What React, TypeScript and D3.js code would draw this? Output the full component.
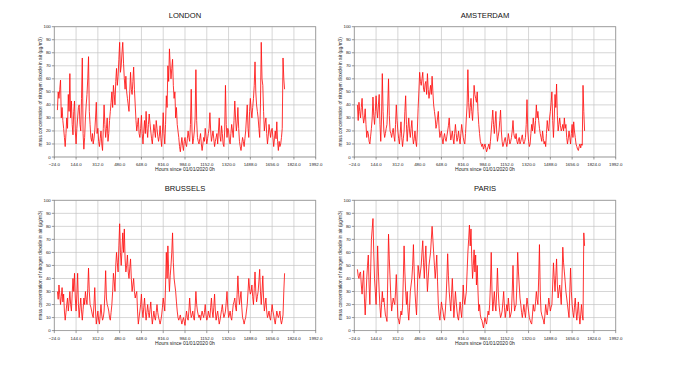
import React from "react";
import * as d3 from "d3";

// NO2 readings sampled every 6 h from 01/01/2020 0h (one row = 144 h)
const sampleStep = 6;

const cities = ["LONDON", "AMSTERDAM", "BRUSSELS", "PARIS"];

const london = [
  36, 50, 45, 52, 59, 30, 38, 28, 22, 15, 8, 18, 30, 22, 48, 35, 64, 30, 43, 25, 17, 35, 43, 20,
  10, 22, 30, 38, 40, 25, 20, 45, 76, 18, 6, 15, 30, 40, 48, 60, 77, 35, 25, 15, 12, 18, 10, 14,
  20, 30, 42, 18, 22, 12, 8, 14, 20, 10, 5, 22, 40, 25, 15, 22, 30, 12, 18, 28, 35, 42, 50, 38,
  55, 48, 40, 58, 68, 55, 62, 75, 88, 65, 70, 80, 88, 72, 60, 52, 62, 50, 45, 40, 35, 50, 65, 52,
  48, 58, 69, 52, 40, 28, 20, 25, 30, 18, 15, 22, 32, 18, 10, 20, 28, 18, 35, 22, 15, 25, 33, 26,
  20, 14, 10, 18, 25, 20, 15, 28, 22, 16, 12, 16, 24, 14, 8, 20, 34, 18, 10, 25, 47, 38, 70, 58,
  83, 70, 60, 68, 75, 55, 45, 50, 30, 38, 25, 20, 15, 8, 4, 10, 15, 9, 5, 12, 15, 10, 8, 14,
  20, 15, 12, 25, 52, 20, 10, 14, 20, 30, 67, 28, 15, 12, 10, 14, 18, 10, 5, 10, 15, 12, 22, 16,
  10, 14, 18, 22, 34, 20, 12, 16, 20, 14, 8, 12, 15, 18, 10, 20, 30, 16, 12, 24, 18, 10, 8, 20,
  55, 25, 15, 22, 20, 13, 10, 18, 25, 20, 15, 28, 43, 30, 20, 26, 38, 22, 12, 8, 5, 10, 15, 12,
  8, 14, 20, 30, 40, 22, 15, 35, 45, 36, 30, 38, 45, 55, 73, 50, 40, 35, 30, 22, 15, 40, 88, 60,
  55, 35, 20, 26, 30, 18, 10, 16, 25, 20, 15, 20, 22, 15, 8, 14, 20, 14, 27, 12, 5, 12, 8, 10,
  15, 22, 76, 60, 52,
];

const amsterdam = [
  40, 28, 42, 35, 30, 38, 45, 32, 26, 30, 37, 25, 15, 20, 18, 12, 10, 16, 22, 30, 46, 32, 25, 35,
  47, 36, 30, 40, 48, 25, 12, 30, 64, 35, 20, 15, 18, 22, 25, 40, 60, 32, 20, 18, 15, 19, 22, 16,
  12, 25, 40, 28, 20, 14, 10, 18, 27, 15, 8, 14, 20, 35, 47, 25, 12, 22, 30, 20, 15, 22, 28, 16,
  10, 14, 20, 12, 8, 20, 37, 50, 65, 58, 55, 60, 65, 52, 50, 56, 58, 48, 64, 52, 45, 50, 55, 48,
  62, 50, 40, 35, 30, 22, 25, 30, 35, 22, 15, 18, 20, 14, 10, 15, 18, 14, 12, 16, 20, 24, 30, 20,
  13, 16, 20, 14, 10, 18, 25, 18, 12, 15, 20, 14, 10, 18, 25, 20, 15, 12, 10, 18, 30, 40, 67, 42,
  30, 38, 45, 35, 28, 40, 55, 48, 45, 42, 50, 35, 25, 18, 12, 10, 8, 10, 6, 8, 10, 7, 4, 6,
  8, 10, 6, 12, 20, 28, 36, 25, 18, 26, 35, 20, 12, 16, 20, 28, 36, 20, 12, 8, 10, 13, 15, 11,
  8, 12, 18, 14, 10, 12, 15, 20, 28, 18, 15, 14, 18, 12, 10, 13, 15, 10, 12, 15, 17, 12, 10, 12,
  15, 25, 44, 20, 12, 8, 10, 18, 25, 20, 30, 24, 18, 28, 40, 30, 35, 28, 22, 18, 15, 12, 20, 14,
  10, 12, 8, 18, 28, 22, 20, 30, 35, 42, 50, 28, 15, 30, 48, 38, 56, 32, 20, 25, 30, 24, 20, 22,
  25, 20, 30, 22, 25, 15, 10, 14, 20, 15, 10, 18, 25, 15, 27, 20, 15, 10, 8, 6, 5, 8, 10, 7,
  10, 9, 55, 35, 20,
];

const brussels = [
  30, 24, 35, 28, 20, 26, 33, 22, 28, 15, 8, 14, 20, 25, 15, 22, 30, 20, 15, 28, 40, 30, 44, 25,
  15, 28, 44, 20, 10, 18, 25, 15, 8, 16, 25, 20, 30, 24, 20, 32, 48, 30, 20, 18, 15, 12, 10, 20,
  33, 15, 5, 10, 15, 8, 5, 12, 20, 12, 8, 10, 15, 28, 46, 25, 20, 18, 15, 10, 8, 14, 20, 30,
  44, 38, 30, 50, 60, 52, 45, 65, 82, 60, 50, 62, 75, 60, 78, 55, 45, 50, 58, 45, 40, 48, 55, 40,
  30, 35, 40, 30, 25, 28, 30, 15, 5, 10, 15, 20, 28, 16, 10, 18, 25, 15, 8, 14, 20, 14, 10, 16,
  22, 12, 5, 10, 15, 10, 8, 14, 20, 14, 10, 8, 5, 8, 12, 18, 25, 20, 15, 35, 60, 40, 65, 45,
  30, 42, 50, 60, 75, 52, 40, 35, 30, 22, 15, 10, 8, 10, 12, 8, 5, 8, 10, 7, 4, 10, 15, 10,
  8, 15, 25, 15, 10, 12, 15, 10, 8, 18, 30, 20, 15, 12, 10, 12, 8, 12, 15, 12, 10, 14, 20, 12,
  8, 10, 15, 12, 10, 18, 25, 15, 10, 18, 28, 15, 8, 12, 15, 10, 5, 8, 12, 16, 20, 14, 10, 12,
  15, 22, 30, 18, 10, 12, 15, 10, 8, 14, 20, 22, 25, 18, 15, 28, 42, 28, 20, 25, 30, 18, 10, 8,
  5, 8, 10, 15, 20, 30, 40, 32, 28, 30, 35, 26, 20, 32, 45, 30, 22, 26, 30, 38, 47, 30, 20, 30,
  42, 25, 15, 20, 25, 15, 10, 12, 15, 10, 8, 14, 20, 15, 12, 8, 5, 10, 15, 12, 10, 12, 15, 8,
  5, 8, 12, 30, 44,
];

const paris = [
  47, 42, 40, 44, 45, 35, 28, 38, 46, 25, 12, 25, 40, 50, 58, 35, 20, 45, 70, 78, 86, 60, 40, 30,
  20, 40, 65, 45, 30, 18, 10, 20, 30, 22, 25, 18, 12, 10, 7, 40, 74, 55, 40, 25, 15, 20, 25, 22,
  20, 30, 43, 25, 10, 8, 5, 10, 15, 12, 18, 40, 65, 45, 30, 20, 30, 15, 8, 18, 30, 35, 40, 50,
  66, 45, 30, 20, 12, 30, 50, 45, 40, 45, 50, 60, 69, 52, 40, 55, 65, 45, 30, 40, 50, 55, 60, 70,
  80, 70, 60, 50, 40, 48, 58, 38, 20, 12, 8, 15, 22, 18, 15, 10, 8, 15, 25, 40, 59, 42, 30, 22,
  15, 28, 40, 25, 10, 20, 30, 22, 15, 10, 8, 15, 22, 15, 10, 20, 35, 25, 20, 25, 30, 45, 60, 70,
  81, 65, 78, 55, 40, 50, 62, 45, 58, 35, 50, 30, 15, 20, 12, 9, 8, 5, 2, 6, 10, 7, 5, 10,
  15, 12, 20, 35, 60, 30, 15, 22, 30, 20, 15, 30, 48, 30, 20, 14, 10, 12, 15, 22, 30, 18, 10, 15,
  20, 15, 25, 18, 10, 12, 15, 30, 50, 25, 15, 18, 20, 35, 60, 45, 35, 25, 20, 14, 10, 15, 20, 14,
  10, 18, 25, 20, 15, 10, 8, 6, 5, 12, 20, 15, 15, 22, 30, 24, 20, 40, 66, 30, 15, 12, 10, 8,
  5, 12, 20, 15, 12, 18, 25, 20, 15, 18, 20, 35, 52, 40, 30, 42, 55, 35, 25, 30, 35, 28, 20, 40,
  64, 52, 45, 38, 30, 25, 20, 15, 10, 30, 48, 30, 20, 14, 10, 18, 25, 15, 8, 15, 22, 12, 5, 12,
  20, 12, 8, 75, 65,
];

const series = [london, amsterdam, brussels, paris];

const xTicks = [-24, 144, 312, 480, 648, 816, 984, 1152, 1320, 1488, 1656, 1824, 1992];
const yTicks = [0, 10, 20, 30, 40, 50, 60, 70, 80, 90, 100];

const xLabel = "Hours since 01/01/2020 0h";
const yLabel = "mass concentration of nitrogen dioxide in air (µg/m3)";

const W = 683;
const H = 370;
const plotW = 261.4;
const plotH = 130.3;
const lefts = [54.3, 354.3];
const tops = [26.7, 200.3];
const font = "'Liberation Sans', Arial, sans-serif";
const fmt = d3.format(".1f");

function Panel(props: { title: string; values: number[]; x0: number; y0: number }) {
  const { title, values, x0, y0 } = props;
  const x = d3.scaleLinear().domain([-24, 1992]).range([0, plotW]);
  const y = d3.scaleLinear().domain([0, 100]).range([plotH, 0]);
  const line = d3
    .line<number>()
    .x((_, i) => x(i * sampleStep))
    .y((d) => y(d));

  return (
    <g transform={`translate(${x0},${y0})`}>
      <text x={plotW / 2} y={-9} textAnchor="middle" fontSize={7.6} fill="#111" fontFamily={font}>
        {title}
      </text>
      <rect width={plotW} height={plotH} fill="#fff" />
      {yTicks.map((t) => (
        <line key={"gy" + t} x1={0} x2={plotW} y1={y(t)} y2={y(t)} stroke="#c4c4c4" strokeWidth={0.7} />
      ))}
      {xTicks.map((t) => (
        <line key={"gx" + t} x1={x(t)} x2={x(t)} y1={0} y2={plotH} stroke="#c4c4c4" strokeWidth={0.7} />
      ))}
      <path d={line(values) || ""} fill="none" stroke="#ff1010" strokeWidth={0.85} strokeLinejoin="round" />
      <rect width={plotW} height={plotH} fill="none" stroke="#9a9a9a" strokeWidth={0.8} />
      {yTicks.map((t) => (
        <g key={"ty" + t}>
          <line x1={-2.5} x2={0} y1={y(t)} y2={y(t)} stroke="#555" strokeWidth={0.6} />
          <text x={-3.5} y={y(t)} dy="0.35em" textAnchor="end" fontSize={4.4} fill="#222" fontFamily={font}>
            {t}
          </text>
        </g>
      ))}
      {xTicks.map((t) => (
        <g key={"tx" + t}>
          <line x1={x(t)} x2={x(t)} y1={plotH} y2={plotH + 2.5} stroke="#555" strokeWidth={0.6} />
          <text x={x(t)} y={plotH + 7.5} dy="0.35em" textAnchor="middle" fontSize={4.4} fill="#222" fontFamily={font}>
            {fmt(t)}
          </text>
        </g>
      ))}
      <text x={plotW / 2} y={plotH + 12.6} dy="0.35em" textAnchor="middle" fontSize={5} fill="#222" fontFamily={font}>
        {xLabel}
      </text>
      <text
        transform={`translate(${-14.3},${plotH / 2}) rotate(-90)`}
        textAnchor="middle"
        dy="0.35em"
        fontSize={4.7}
        fill="#222"
        fontFamily={font}
      >
        {yLabel}
      </text>
    </g>
  );
}

export default function App() {
  return (
    <svg
      width={W}
      height={H}
      viewBox={`0 0 ${W} ${H}`}
      style={{ position: "absolute", left: 0, top: 0, background: "#fff" }}
    >
      <rect width={W} height={H} fill="#fff" />
      {cities.map((c, i) => (
        <Panel key={c} title={c} values={series[i]} x0={lefts[i % 2]} y0={tops[Math.floor(i / 2)]} />
      ))}
    </svg>
  );
}
